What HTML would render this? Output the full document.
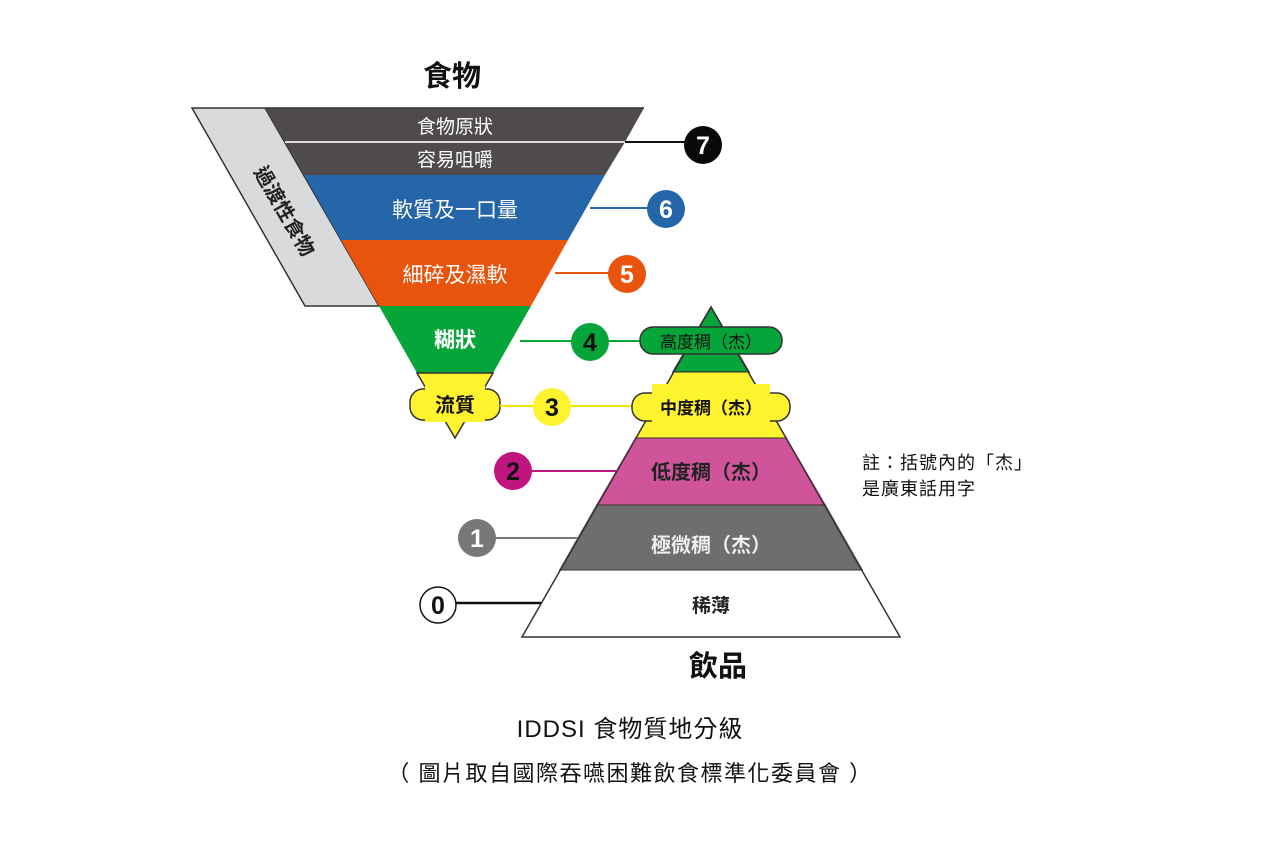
<!DOCTYPE html>
<html><head><meta charset="utf-8"><style>
html,body{margin:0;padding:0;background:#fff;}
svg{display:block;font-family:"Liberation Sans","Noto Sans CJK TC",sans-serif;}
</style></head><body>
<svg width="1280" height="853" viewBox="0 0 1280 853" xmlns="http://www.w3.org/2000/svg">
<rect width="1280" height="853" fill="#fff"/>
<text x="452" y="86" font-size="29" font-weight="bold" text-anchor="middle" fill="#111">食物</text>
<polygon points="192,108 265,108 379,306 305,306" fill="#d9dadb" stroke="#333" stroke-width="1.5"/>
<text transform="translate(283,212) rotate(60)" font-size="20" font-weight="bold" text-anchor="middle" fill="#222" dominant-baseline="middle">過渡性食物</text>
<polygon points="265,108 644,108 625,142 285,142" fill="#4f4b4c"/>
<polygon points="285,142 625,142 605,175 304,175" fill="#4f4b4c"/>
<line x1="285" y1="142" x2="625" y2="142" stroke="#ddd" stroke-width="2"/>
<polygon points="304,175 605,175 568,240 341,240" fill="#2566a8"/>
<polygon points="341,240 568,240 531,306 379,306" fill="#e8540c"/>
<polygon points="379,306 531,306 493,373 417,373" fill="#05a53a"/>
<polygon points="417,373 493,373 455,438" fill="#fff22e" stroke="#333" stroke-width="1.5"/>
<polyline points="265,108 644,108" stroke="#333" stroke-width="1.5"/>
<rect x="410" y="389" width="90" height="31" rx="13" fill="#fff22e" stroke="#333" stroke-width="1.5"/>
<rect x="425" y="380" width="60" height="42" fill="#fff22e"/>
<text x="455" y="133" font-size="19" text-anchor="middle" fill="#fff">食物原狀</text>
<text x="455" y="166" font-size="19" text-anchor="middle" fill="#fff">容易咀嚼</text>
<text x="455" y="217" font-size="21" text-anchor="middle" fill="#fff">軟質及一口量</text>
<text x="455" y="282" font-size="21" text-anchor="middle" fill="#fff">細碎及濕軟</text>
<text x="455" y="347" font-size="21" font-weight="bold" text-anchor="middle" fill="#fff">糊狀</text>
<text x="455" y="412" font-size="20" font-weight="bold" text-anchor="middle" fill="#111">流質</text>
<line x1="625" y1="142" x2="690" y2="142" stroke="#111" stroke-width="2"/>
<circle cx="703" cy="145" r="19" fill="#0a0a0a"/>
<text x="703" y="154" font-size="25" font-weight="bold" text-anchor="middle" fill="#fff">7</text>
<line x1="590" y1="208" x2="650" y2="208" stroke="#2566a8" stroke-width="2"/>
<circle cx="666" cy="209" r="19" fill="#2566a8"/>
<text x="666" y="218" font-size="25" font-weight="bold" text-anchor="middle" fill="#fff">6</text>
<line x1="555" y1="273" x2="612" y2="273" stroke="#e8540c" stroke-width="2"/>
<circle cx="627" cy="274" r="19" fill="#e8540c"/>
<text x="627" y="283" font-size="25" font-weight="bold" text-anchor="middle" fill="#fff">5</text>
<line x1="520" y1="341" x2="645" y2="341" stroke="#05a53a" stroke-width="2"/>
<circle cx="590" cy="342" r="19" fill="#05a53a"/>
<text x="590" y="351" font-size="25" font-weight="bold" text-anchor="middle" fill="#111">4</text>
<line x1="500" y1="406" x2="636" y2="406" stroke="#f2e400" stroke-width="2"/>
<circle cx="552" cy="407" r="19" fill="#fff22e"/>
<text x="552" y="416" font-size="25" font-weight="bold" text-anchor="middle" fill="#111">3</text>
<polygon points="711,307 749,372 673,372" fill="#05a53a" stroke="#333" stroke-width="1.5"/>
<polygon points="673,372 749,372 787,438 635,438" fill="#fff22e"/>
<polygon points="635,438 787,438 826,505 596,505" fill="#d0549a"/>
<polygon points="596,505 826,505 863,570 559,570" fill="#6e6e6e"/>
<polygon points="559,570 863,570 900,637 522,637" fill="#fff"/>
<polygon points="711,307 900,637 522,637" fill="none" stroke="#333" stroke-width="1.5"/>
<line x1="673" y1="372" x2="749" y2="372" stroke="#333" stroke-width="1"/>
<line x1="635" y1="438" x2="787" y2="438" stroke="#333" stroke-width="1"/>
<line x1="596" y1="505" x2="826" y2="505" stroke="#333" stroke-width="1"/>
<line x1="559" y1="570" x2="863" y2="570" stroke="#333" stroke-width="1"/>
<rect x="640" y="327" width="142" height="27" rx="13" fill="#05a53a" stroke="#333" stroke-width="1.5"/>
<rect x="632" y="393" width="158" height="28" rx="13" fill="#fff22e" stroke="#333" stroke-width="1.5"/>
<rect x="652" y="384" width="118" height="40" fill="#fff22e"/>
<text x="711" y="348" font-size="17" text-anchor="middle" fill="#111">高度稠（杰）</text>
<text x="711" y="414" font-size="17" font-weight="bold" text-anchor="middle" fill="#111">中度稠（杰）</text>
<text x="711" y="479" font-size="20" font-weight="bold" text-anchor="middle" fill="#222">低度稠（杰）</text>
<text x="711" y="552" font-size="20" font-weight="bold" text-anchor="middle" fill="#eee">極微稠（杰）</text>
<text x="711" y="612" font-size="19" font-weight="bold" text-anchor="middle" fill="#222">稀薄</text>
<line x1="530" y1="471" x2="616" y2="471" stroke="#c0147f" stroke-width="2"/>
<circle cx="513" cy="471" r="19" fill="#c0147f"/>
<text x="513" y="480" font-size="25" font-weight="bold" text-anchor="middle" fill="#111">2</text>
<line x1="494" y1="538" x2="578" y2="538" stroke="#777" stroke-width="2"/>
<circle cx="477" cy="538" r="19" fill="#777"/>
<text x="477" y="547" font-size="25" font-weight="bold" text-anchor="middle" fill="#fff">1</text>
<line x1="456" y1="603" x2="541" y2="603" stroke="#111" stroke-width="2.5"/>
<circle cx="438" cy="605" r="18" fill="#fff" stroke="#111" stroke-width="1.5"/>
<text x="438" y="614" font-size="25" font-weight="bold" text-anchor="middle" fill="#111">0</text>
<text x="718" y="676" font-size="29" font-weight="bold" text-anchor="middle" fill="#111">飲品</text>
<text x="862" y="469" font-size="18" letter-spacing="1" fill="#111">註：括號內的「杰」</text>
<text x="862" y="495" font-size="18" letter-spacing="1" fill="#111">是廣東話用字</text>
<text x="630" y="737" font-size="24" letter-spacing="1" text-anchor="middle" fill="#111">IDDSI 食物質地分級</text>
<text x="630" y="781" font-size="22" letter-spacing="1.5" text-anchor="middle" fill="#111">（ 圖片取自國際吞嚥困難飲食標準化委員會 ）</text>
</svg>
</body></html>
